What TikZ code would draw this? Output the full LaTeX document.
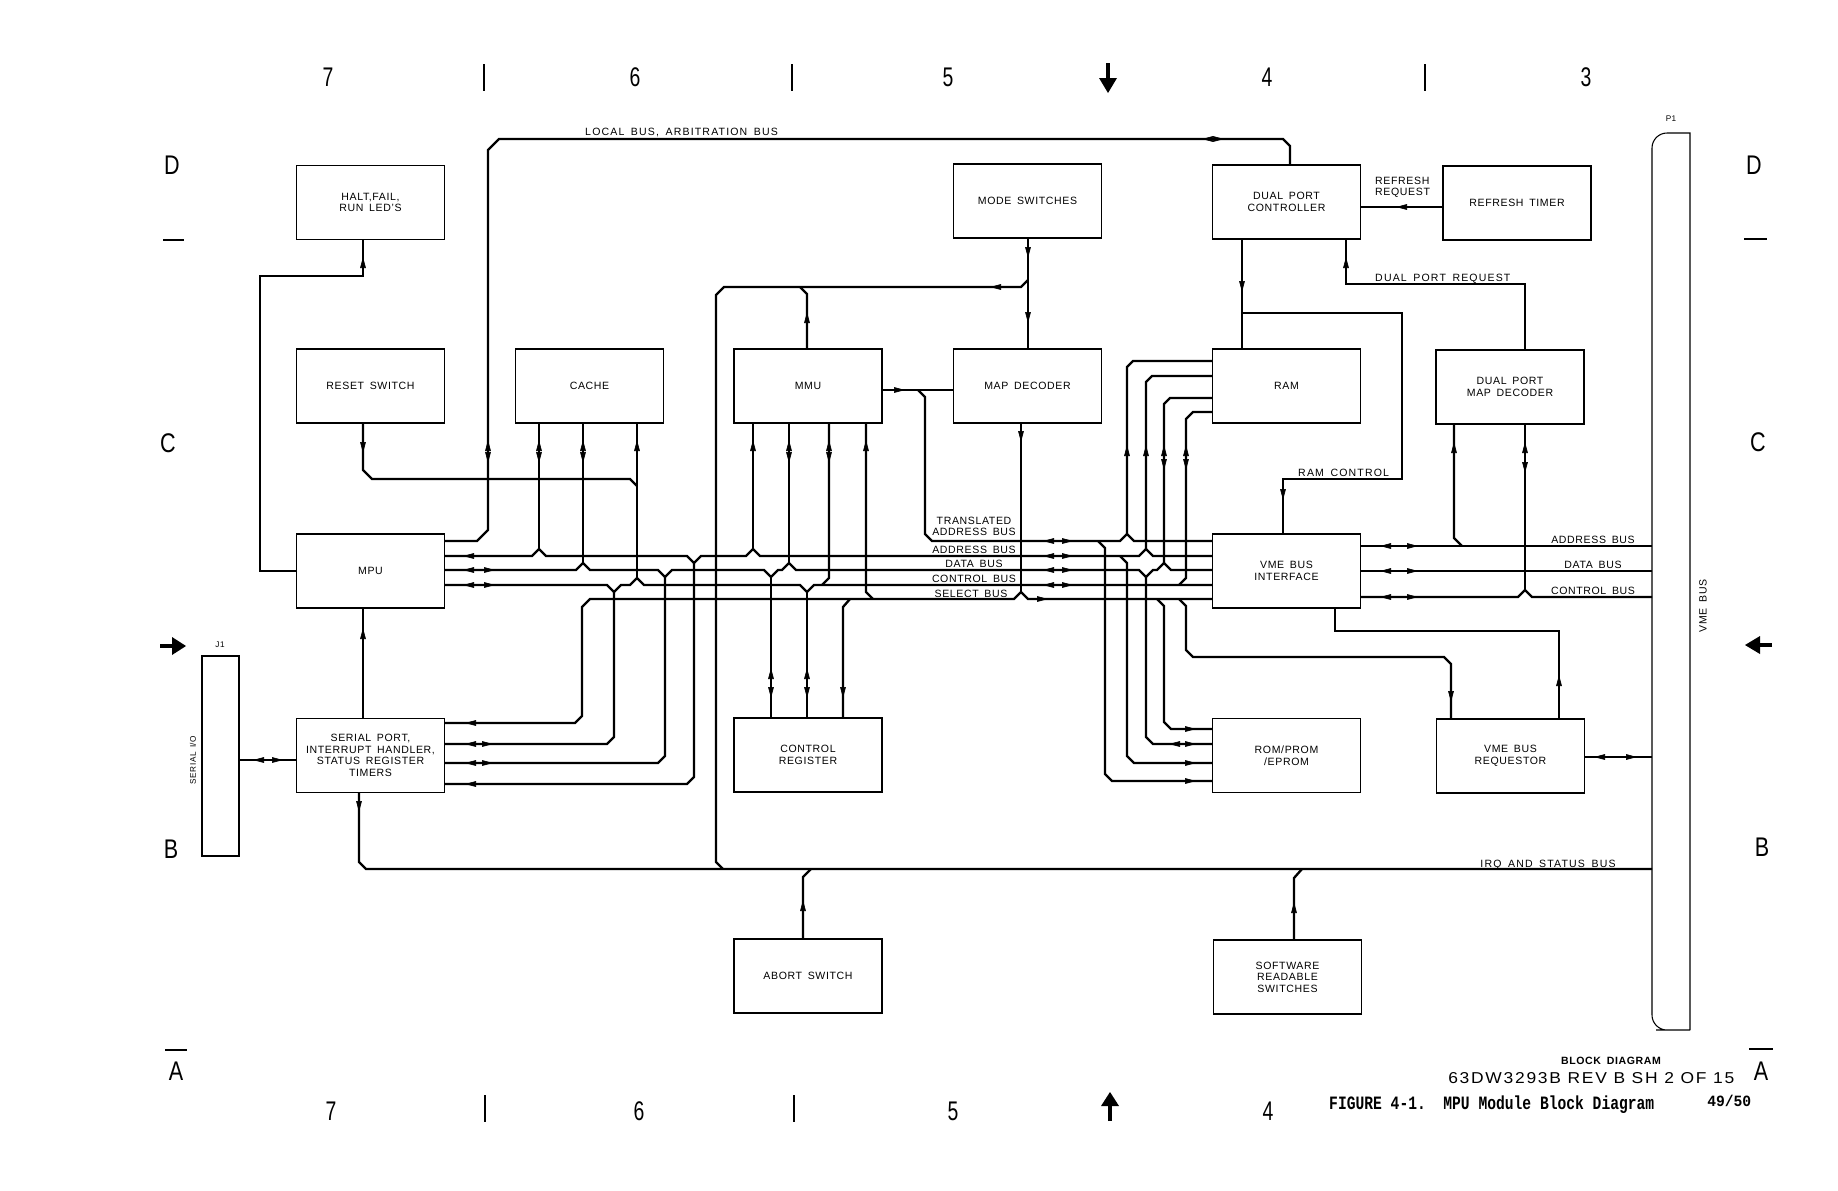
\documentclass[tikz,border=0pt]{standalone}
\usepackage{fontspec}
\usepackage{graphicx}
\setmainfont{Liberation Sans}[LetterSpace=6,WordSpace=1.6]
\newfontfamily\numfont{Liberation Sans}
\newfontfamily\drawfont{Liberation Sans}[LetterSpace=10]
\newfontfamily\figfont{Liberation Mono}
\usetikzlibrary{arrows.meta}

\begin{document}
\begin{tikzpicture}[x=0.03cm, y=-0.03cm,
    box/.style={draw, line width=0.9pt, minimum width=4.44cm, minimum height=2.22cm,
        inner sep=0pt, align=center, font=\fontsize{9}{9.8}\selectfont},
    bus/.style={line width=2pt},
    wire/.style={line width=1.1pt},
    tip/.style={line width=0.6pt, -{Triangle[length=0.33cm,width=0.17cm]}},
    lbl/.style={inner sep=0pt, font=\fontsize{9}{9.8}\selectfont},
    wide/.style={inner sep=0pt, font=\fontsize{9}{9.8}\selectfont\addfontfeature{LetterSpace=11}},
    small/.style={inner sep=0pt, font=\fontsize{7}{7.5}\selectfont},
    bord/.style={inner sep=0pt, font=\numfont\fontsize{23}{23}\selectfont}]
    % 画布
    \useasboundingbox (0,0) rectangle (1838,1190);
    \fill[white] (0,0) rectangle (1838,1190);

    % 图框分区编号
    \foreach \n/\x in {7/328,6/635,5/948,4/1267,3/1586}
        \node[bord] (top\n) at (\x,77) {\scalebox{0.72}[1]{\n}};
    \foreach \n/\x in {7/331,6/639,5/953,4/1268}
        \node[bord] (bot\n) at (\x,1111) {\scalebox{0.72}[1]{\n}};
    \foreach \x in {484,792,1425}
        \draw[line width=2pt] (\x,64) -- (\x,91);
    \foreach \x in {485,794}
        \draw[line width=2pt] (\x,1095) -- (\x,1122);
    \node[bord] (lD) at (172,165) {\scalebox{0.8}[1]{D}};
    \node[bord] (lC) at (168,443) {\scalebox{0.8}[1]{C}};
    \node[bord] (lB) at (171,849) {\scalebox{0.8}[1]{B}};
    \node[bord] (lA) at (176,1071) {\scalebox{0.8}[1]{A}};
    \node[bord] (rD) at (1754,165) {\scalebox{0.8}[1]{D}};
    \node[bord] (rC) at (1758,442) {\scalebox{0.8}[1]{C}};
    \node[bord] (rB) at (1762,847) {\scalebox{0.8}[1]{B}};
    \node[bord] (rA) at (1761,1071) {\scalebox{0.8}[1]{A}};
    \draw[line width=2pt] (163,240) -- (184,240);
    \draw[line width=2pt] (165,1050) -- (187,1050);
    \draw[line width=2pt] (1744,239) -- (1767,239);
    \draw[line width=2pt] (1749,1049) -- (1773,1049);
    % 定位箭头
    \draw[line width=3pt] (1108,63) -- (1108,80);
    \fill (1099,78) -- (1117,78) -- (1108,93) -- cycle;
    \draw[line width=3pt] (1110,1121) -- (1110,1104);
    \fill (1101,1106) -- (1119,1106) -- (1110,1092) -- cycle;
    \draw[line width=3pt] (160,646) -- (174,646);
    \fill (172,637) -- (172,655) -- (186,646) -- cycle;
    \draw[line width=3pt] (1772,645) -- (1758,645);
    \fill (1760,636) -- (1760,654) -- (1745,645) -- cycle;

    % 方框
    \node[box] (halt) at (370.5,202.5) {HALT,FAIL,\\RUN LED'S};
    \node[box] (reset) at (370.5,386) {RESET SWITCH};
    \node[box] (cache) at (589.5,386) {CACHE};
    \node[box] (mmu) at (808,386) {MMU};
    \node[box] (mapdec) at (1027.5,386) {MAP DECODER};
    \node[box] (modesw) at (1027.5,201) {MODE SWITCHES};
    \node[box] (dpc) at (1286.5,202) {DUAL PORT\\CONTROLLER};
    \node[box] (rtimer) at (1517,203) {REFRESH TIMER};
    \node[box] (ram) at (1286.5,386) {RAM};
    \node[box] (dpmd) at (1510,387) {DUAL PORT\\MAP DECODER};
    \node[box] (mpu) at (370.5,571) {MPU};
    \node[box] (vmeif) at (1286.5,571) {VME BUS\\INTERFACE};
    \node[box] (serial) at (370.5,755.5) {SERIAL PORT,\\INTERRUPT HANDLER,\\STATUS REGISTER\\TIMERS};
    \node[box] (ctrlreg) at (808,755) {CONTROL\\REGISTER};
    \node[box] (rom) at (1286.5,755.5) {ROM/PROM\\/EPROM};
    \node[box] (vmereq) at (1510.5,756) {VME BUS\\REQUESTOR};
    \node[box] (abort) at (808,976) {ABORT SWITCH};
    \node[box] (swsw) at (1287.5,977) {SOFTWARE\\READABLE\\SWITCHES};

    % J1 与 P1 连接器
    \node[draw, line width=0.9pt, minimum width=1.11cm, minimum height=6cm] (jone) at (220.5,756) {};
    \node[small] (jlabel) at (220,645) {J1};
    \node[small, rotate=90] (sio) at (193,760) {SERIAL I/O};
    \draw[line width=0.9pt] (1690,1030) -- (1690,133) -- (1671,133) [rounded corners=0.45cm]
        -- (1652,133) -- (1652,1030) -- (1671,1030) [sharp corners] -- (1690,1030);
    \node[small] (plabel) at (1671,119) {P1};
    \node[lbl, rotate=90] (vmebus) at (1703,606) {VME BUS};

    % 本地总线
    \draw[bus] (444,541) -- (477,541) -- (488,530) -- (488,150) -- (499,139)
        -- (1283,139) -- (1290,146) -- (1290,165);
    \draw[tip] (488,455) -- (488,440);
    \draw[tip] (488,448) -- (488,463);
    \draw[tip] (1216,139) -- (1202,139);
    \draw[tip] (1210,139) -- (1224,139);
    \node[wide, anchor=base west] (llocal) at (585,135) {LOCAL BUS, ARBITRATION BUS};

    % 左侧细线
    \draw[wire] (297,571) -- (260,571) -- (260,276) -- (363,276) -- (363,239);
    \draw[tip] (363,270) -- (363,257);
    \draw[wire] (363,719) -- (363,608);
    \draw[tip] (363,641) -- (363,628);
    \draw[wire] (239,760) -- (297,760);
    \draw[tip] (267,760) -- (253,760);
    \draw[tip] (269,760) -- (283,760);

    % 复位与缓存
    \draw[bus] (363,423) -- (363,470) -- (372,479) -- (630,479) -- (637,486);
    \draw[tip] (363,440) -- (363,453);
    \draw[bus] (539,423) -- (539,549);
    \draw[bus] (583,423) -- (583,563);
    \draw[bus] (637,423) -- (637,578);
    \foreach \x in {539,583,637}
        \draw[tip] (\x,452) -- (\x,440);
    \foreach \x in {539,583}
        \draw[tip] (\x,451) -- (\x,463);

    % 主总线: 地址, 数据, 控制, 选择
    \draw[bus] (444,556) -- (532,556) -- (539,549) -- (546,556) -- (687,556) -- (694,563)
        -- (701,556) -- (746,556) -- (753,549) -- (760,556) -- (1139,556) -- (1146,549)
        -- (1153,556) -- (1212,556);
    \draw[bus] (444,570) -- (576,570) -- (583,563) -- (590,570) -- (658,570) -- (665,577)
        -- (672,570) -- (764,570) -- (771,577) -- (778,570) -- (782,570) -- (789,563)
        -- (796,570) -- (1139,570) -- (1146,577) -- (1153,570) -- (1157,570)
        -- (1164,563) -- (1171,570) -- (1212,570);
    \draw[bus] (444,585) -- (607,585) -- (614,592) -- (621,585) -- (630,585) -- (637,578)
        -- (644,585) -- (800,585) -- (807,592) -- (814,585) -- (1212,585);
    \draw[bus] (444,723) -- (575,723) -- (582,716) -- (582,607) -- (590,599) -- (1014,599)
        -- (1021,592) -- (1028,599) -- (1212,599);
    \draw[tip] (477,556) -- (463,556);
    \foreach \y in {570,585} {
        \draw[tip] (477,\y) -- (463,\y);
        \draw[tip] (481,\y) -- (495,\y);
    }

    % 串口的总线连线
    \draw[bus] (444,744) -- (607,744) -- (614,737) -- (614,592);
    \draw[bus] (444,763) -- (658,763) -- (665,756) -- (665,577);
    \draw[bus] (444,784) -- (687,784) -- (694,777) -- (694,563);
    \draw[tip] (479,723) -- (465,723);
    \draw[tip] (479,784) -- (465,784);
    \foreach \y in {744,763} {
        \draw[tip] (479,\y) -- (465,\y);
        \draw[tip] (479,\y) -- (493,\y);
    }

    % MMU 与控制寄存器
    \draw[bus] (753,423) -- (753,549);
    \draw[bus] (789,423) -- (789,563);
    \draw[bus] (829,423) -- (829,578) -- (822,585);
    \draw[bus] (866,423) -- (866,592) -- (873,599);
    \foreach \x in {753,789,829,866}
        \draw[tip] (\x,452) -- (\x,440);
    \foreach \x in {789,829}
        \draw[tip] (\x,451) -- (\x,463);
    \draw[bus] (771,718) -- (771,577);
    \draw[bus] (807,718) -- (807,592);
    \draw[bus] (843,718) -- (843,607) -- (850,599);
    \foreach \x in {771,807} {
        \draw[tip] (\x,681) -- (\x,668);
        \draw[tip] (\x,685) -- (\x,698);
    }
    \draw[tip] (843,685) -- (843,698);

    % 方式开关与映射译码器
    \draw[bus] (1028,238) -- (1028,349);
    \draw[bus] (1028,280) -- (1021,287) -- (724,287) -- (716,295) -- (716,862) -- (723,869);
    \draw[tip] (1028,245) -- (1028,258);
    \draw[tip] (1028,310) -- (1028,323);
    \draw[tip] (1004,287) -- (990,287);
    \draw[bus] (807,349) -- (807,294) -- (800,287);
    \draw[tip] (807,325) -- (807,312);
    \draw[bus] (881,390) -- (954,390);
    \draw[tip] (891,390) -- (905,390);
    \draw[bus] (918,390) -- (925,397) -- (925,534) -- (932,541) -- (1120,541) -- (1127,534)
        -- (1134,541) -- (1212,541);
    \draw[bus] (1021,423) -- (1021,592);
    \draw[tip] (1021,429) -- (1021,442);

    % 总线名称
    \node[lbl, align=center, anchor=south] (lta) at (974,536) {TRANSLATED\\ADDRESS BUS};
    \node[lbl, anchor=base] (laddr) at (974,553) {ADDRESS BUS};
    \node[lbl, anchor=base] (ldata) at (974,567) {DATA BUS};
    \node[lbl, anchor=base] (lctrl) at (974,582) {CONTROL BUS};
    \node[lbl, anchor=base] (lsel) at (971,597) {SELECT BUS};
    \foreach \y in {541,556,570,585} {
        \draw[tip] (1057,\y) -- (1043,\y);
        \draw[tip] (1059,\y) -- (1073,\y);
    }
    \draw[tip] (1034,599) -- (1048,599);

    % RAM 连线
    \draw[bus] (1212,361) -- (1133,361) -- (1127,367) -- (1127,534);
    \draw[bus] (1212,376) -- (1152,376) -- (1146,382) -- (1146,549);
    \draw[bus] (1212,398) -- (1170,398) -- (1164,404) -- (1164,563);
    \draw[bus] (1212,412) -- (1193,412) -- (1186,419) -- (1186,578) -- (1179,585);
    \foreach \x in {1127,1146,1164,1186}
        \draw[tip] (\x,458) -- (\x,445);
    \foreach \x in {1164,1186}
        \draw[tip] (\x,457) -- (\x,470);

    % ROM 连线
    \draw[bus] (1157,599) -- (1164,606) -- (1164,722) -- (1171,729) -- (1212,729);
    \draw[bus] (1146,577) -- (1146,737) -- (1153,744) -- (1212,744);
    \draw[bus] (1120,556) -- (1127,563) -- (1127,756) -- (1134,763) -- (1212,763);
    \draw[bus] (1098,541) -- (1105,548) -- (1105,774) -- (1112,781) -- (1212,781);
    \foreach \y in {729,744,763,781}
        \draw[tip] (1182,\y) -- (1196,\y);
    \draw[tip] (1183,744) -- (1169,744);

    % VME 总线请求器
    \draw[bus] (1179,599) -- (1186,606) -- (1186,650) -- (1193,657) -- (1444,657) -- (1451,664)
        -- (1451,719);
    \draw[tip] (1451,689) -- (1451,702);
    \draw[wire] (1335,608) -- (1335,631) -- (1559,631) -- (1559,719);
    \draw[tip] (1559,688) -- (1559,675);
    \draw[wire] (1585,757) -- (1652,757);
    \draw[tip] (1608,757) -- (1594,757);
    \draw[tip] (1623,757) -- (1637,757);

    % VME 接口右侧总线
    \draw[bus] (1361,546) -- (1652,546);
    \draw[bus] (1361,571) -- (1652,571);
    \draw[bus] (1361,597) -- (1518,597) -- (1525,590) -- (1532,597) -- (1652,597);
    \foreach \y in {546,571,597} {
        \draw[tip] (1394,\y) -- (1380,\y);
        \draw[tip] (1404,\y) -- (1418,\y);
    }
    \node[lbl, anchor=base] (lvaddr) at (1593,543) {ADDRESS BUS};
    \node[lbl, anchor=base] (lvdata) at (1593,568) {DATA BUS};
    \node[lbl, anchor=base] (lvctrl) at (1593,594) {CONTROL BUS};

    % 双口译码与刷新
    \draw[bus] (1454,424) -- (1454,538) -- (1462,546);
    \draw[bus] (1525,424) -- (1525,590);
    \draw[tip] (1454,455) -- (1454,442);
    \draw[tip] (1525,455) -- (1525,442);
    \draw[tip] (1525,460) -- (1525,473);
    \draw[wire] (1525,350) -- (1525,284) -- (1346,284) -- (1346,239);
    \draw[tip] (1346,270) -- (1346,257);
    \node[wide, anchor=base west] (ldpreq) at (1375,281) {DUAL PORT REQUEST};
    \draw[wire] (1442,207) -- (1361,207);
    \draw[tip] (1410,207) -- (1396,207);
    \node[lbl, align=left, anchor=west] (lrreq) at (1375,187.5) {REFRESH\\REQUEST};
    \draw[wire] (1242,239) -- (1242,349);
    \draw[tip] (1242,279) -- (1242,292);
    \draw[wire] (1242,313) -- (1402,313) -- (1402,479) -- (1283,479) -- (1283,534);
    \draw[tip] (1283,487) -- (1283,500);
    \node[wide, anchor=base west] (lramc) at (1298,476) {RAM CONTROL};

    % 中断与状态总线
    \draw[bus] (359,792) -- (359,862) -- (366,869) -- (1652,869);
    \draw[tip] (359,799) -- (359,812);
    \draw[bus] (803,939) -- (803,877) -- (811,869);
    \draw[tip] (803,913) -- (803,900);
    \draw[bus] (1294,940) -- (1294,878) -- (1302,869);
    \draw[tip] (1294,915) -- (1294,902);
    \node[wide, anchor=base] (lirq) at (1548,867) {IRQ AND STATUS BUS};

    % 图号
    \node[lbl, anchor=base] (ltitle) at (1611,1064) {\bfseries BLOCK DIAGRAM};
    \node[inner sep=0pt, anchor=base west] (ldwg) at (1448,1083)
        {\resizebox{8.58cm}{0.33cm}{\drawfont 63DW3293B REV B SH 2 OF 15}};
    \node[inner sep=0pt, anchor=base west] (lfig) at (1329,1109)
        {\resizebox{9.75cm}{0.41cm}{\figfont\bfseries FIGURE 4-1.~~MPU Module Block Diagram}};
    \node[inner sep=0pt, anchor=base west] (lpage) at (1707,1106)
        {\resizebox{1.32cm}{0.34cm}{\figfont\bfseries 49/50}};
\end{tikzpicture}
\end{document}
